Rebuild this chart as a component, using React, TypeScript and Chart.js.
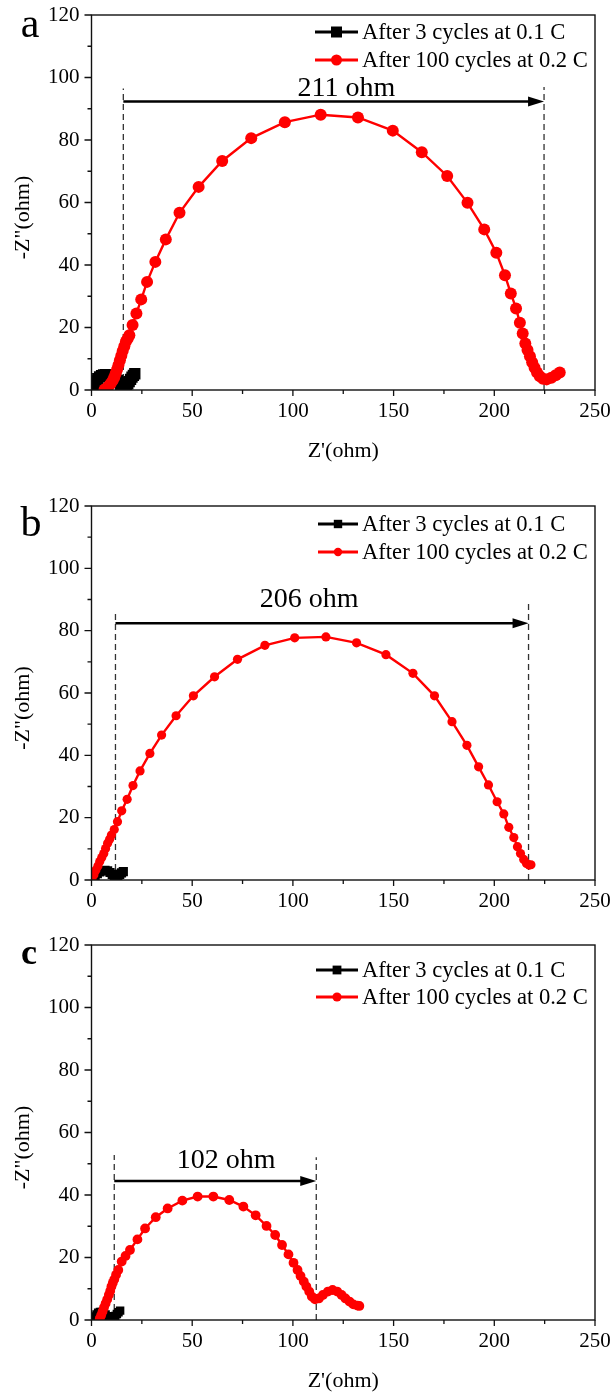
import React, { useEffect, useRef } from "react";
import { Chart, registerables } from "chart.js";
Chart.register(...registerables);

const FONT = '"Liberation Serif", "Times New Roman", serif';

const legendLabels = ["After 3 cycles at 0.1 C", "After 100 cycles at 0.2 C"];
const xTitle = "Z'(ohm)";
const yTitle = '-Z"(ohm)';
const xTickValues = [0, 50, 100, 150, 200, 250];
const yTickValues = [0, 20, 40, 60, 80, 100, 120];

// ---------- Panel a ----------
const aBlackX = [0.5, 1, 1.6, 2.3, 3.1, 4, 5, 6, 7, 8, 9, 10, 11, 12, 13, 13.8, 14.5, 15.2, 15.9, 16.6, 17.3, 18, 18.7, 19.4, 20.1, 20.8, 21.5];
const aBlackY = [0.3, 1.2, 2.1, 2.9, 3.6, 4.2, 4.6, 4.8, 4.9, 4.9, 4.8, 4.6, 4.3, 3.8, 3.1, 2.4, 1.7, 1.2, 0.9, 1.0, 1.4, 2.0, 2.7, 3.4, 4.1, 4.7, 5.2];
const aRedX = [6.5, 7.5, 8.5, 9.5, 10.5, 11.3, 12, 12.7, 13.4, 14.1, 14.8, 15.5, 16.3, 17.1, 18, 18.8, 20.4, 22.3, 24.7, 27.6, 31.7, 36.9, 43.7, 53.2, 64.9, 79.3, 96, 113.8, 132.3, 149.6, 164, 176.6, 186.7, 195, 201, 205.3, 208.2, 210.8, 212.7, 214.1, 215.4, 216.5, 217.7, 218.8, 220, 221.2, 222.6, 224.2, 226, 228.3, 230.5, 232.5];
const aRedY = [0.2, 0.6, 1.2, 2, 3, 4.1, 5.3, 6.6, 8, 9.5, 11, 12.5, 14, 15.5, 16.5, 17.5, 20.8, 24.5, 29, 34.6, 41, 48.2, 56.7, 65, 73.3, 80.6, 85.7, 88.1, 87.2, 83, 76.1, 68.5, 59.9, 51.4, 43.9, 36.7, 30.9, 26.1, 21.5, 18.1, 14.9, 12.8, 10.8, 8.9, 7.1, 5.6, 4.4, 3.6, 3.4, 3.9, 4.7, 5.6];
const aMarkX = [15.8, 224.7];
const aMarkTop = [96.5, 97];
const aArrowY = 92.3;
const aLabel = "211 ohm";
const aLabelAt = [126.6, 94.2];

// ---------- Panel b ----------
const bBlackX = [0.8, 1.8, 2.9, 4.1, 5.4, 6.7, 8, 9.2, 10.3, 11.3, 12.2, 13.1, 14, 14.9, 15.8];
const bBlackY = [0.5, 1.3, 2.0, 2.6, 3.0, 3.1, 2.9, 2.4, 1.8, 1.3, 1.1, 1.3, 1.8, 2.3, 2.7];
const bRedX = [0.2, 1.2, 2.2, 3.2, 4.1, 5.1, 6.1, 7, 8, 9, 9.9, 11.3, 12.9, 15, 17.7, 20.6, 24.1, 29, 34.8, 42, 50.6, 61.1, 72.5, 86.1, 100.9, 116.4, 131.6, 146.2, 159.6, 170.3, 179, 186.4, 192.2, 197.1, 201.4, 204.7, 207.2, 209.7, 211.5, 213, 214.6, 216, 217.3, 218.2];
const bRedY = [0.3, 1.7, 3.2, 4.5, 5.9, 7.2, 8.5, 10.1, 11.8, 13.1, 14.4, 16.2, 18.7, 22.2, 25.9, 30.3, 35, 40.6, 46.5, 52.7, 59.1, 65.2, 70.8, 75.3, 77.7, 78, 76.1, 72.3, 66.3, 59.1, 50.8, 43.2, 36.3, 30.5, 25.1, 21.2, 16.9, 13.6, 10.7, 8.5, 6.6, 5.3, 4.8, 4.9];
const bMarkX = [11.9, 217];
const bMarkTop = [86.6, 89.3];
const bArrowY = 82.4;
const bLabel = "206 ohm";
const bLabelAt = [108.1, 87.7];

// ---------- Panel c ----------
const cBlackX = [1.2, 1.8, 2.5, 3.3, 4.2, 5.1, 6, 7, 8, 9, 10, 11, 11.8, 12.6, 13.4, 14.2];
const cBlackY = [0.3, 1.1, 1.8, 2.3, 2.6, 2.6, 2.3, 1.8, 1.2, 0.8, 0.6, 0.8, 1.3, 1.9, 2.5, 3.0];
const cRedX = [4.1, 4.8, 5.5, 6.2, 7, 7.8, 8.6, 9.3, 9.9, 10.6, 11.3, 12.2, 13.3, 15, 16.9, 19.1, 22.8, 26.6, 31.9, 37.8, 45.1, 52.7, 60.5, 68.4, 75.4, 81.5, 86.9, 91.2, 94.6, 97.8, 100.3, 102.3, 103.8, 105.4, 106.7, 108.1, 109.4, 111, 112.9, 114.9, 117.4, 119.7, 122, 124.2, 126.1, 128.1, 130, 132, 133];
const cRedY = [0.5, 1.5, 2.7, 4, 5.3, 6.6, 8, 9.3, 10.7, 11.9, 13, 14.5, 16, 18.7, 20.5, 22.4, 25.8, 29.3, 32.9, 35.7, 38.2, 39.5, 39.5, 38.4, 36.3, 33.5, 30.1, 27.2, 24, 21, 18.3, 16, 14.1, 12.3, 10.7, 9.1, 7.5, 6.6, 6.9, 8, 9.1, 9.6, 9.1, 8, 6.9, 5.9, 5, 4.6, 4.5];
const cMarkX = [11.3, 111.6];
const cMarkTop = [52.8, 52.1];
const cArrowY = 44.5;
const cLabel = "102 ohm";
const cLabelAt = [66.8, 48.5];

const toPts = (xs: number[], ys: number[]) => xs.map((x, i) => ({ x, y: ys[i] }));

const panels = [
  {
    key: "a", top: 0, height: 470, caTop: 15, caBottom: 390,
    letter: "a", letterFont: `42px ${FONT}`, letterX: 30, letterBase: 37,
    showXTitle: true, legendRows: [32, 60], legendX0: 315,
    redR: 6, rectR: 8, legRedR: 5.5, legRectR: 5.5,
    blackX: aBlackX, blackY: aBlackY, redX: aRedX, redY: aRedY,
    markX: aMarkX, markTop: aMarkTop, arrowY: aArrowY, label: aLabel, labelAt: aLabelAt,
  },
  {
    key: "b", top: 470, height: 450, caTop: 36, caBottom: 410,
    letter: "b", letterFont: `42px ${FONT}`, letterX: 31, letterBase: 66,
    showXTitle: false, legendRows: [54, 82], legendX0: 318,
    redR: 4.6, rectR: 6.5, legRedR: 4.2, legRectR: 4.2,
    blackX: bBlackX, blackY: bBlackY, redX: bRedX, redY: bRedY,
    markX: bMarkX, markTop: bMarkTop, arrowY: bArrowY, label: bLabel, labelAt: bLabelAt,
  },
  {
    key: "c", top: 920, height: 476, caTop: 25, caBottom: 400,
    letter: "c", letterFont: `bold 36px ${FONT}`, letterX: 29, letterBase: 44,
    showXTitle: true, legendRows: [50, 77], legendX0: 316,
    redR: 4.9, rectR: 6, legRedR: 4.6, legRectR: 4.4,
    blackX: cBlackX, blackY: cBlackY, redX: cRedX, redY: cRedY,
    markX: cMarkX, markTop: cMarkTop, arrowY: cArrowY, label: cLabel, labelAt: cLabelAt,
  },
];

function makeDeco(p: any) {
  return {
    id: "deco_" + p.key,
    beforeDatasetsDraw(chart: any) {
      const { ctx, scales } = chart;
      const x = scales.x, y = scales.y;
      ctx.save();
      ctx.strokeStyle = "#333";
      ctx.lineWidth = 1.3;
      ctx.setLineDash([6, 4]);
      p.markX.forEach((mx: number, i: number) => {
        const px = x.getPixelForValue(mx);
        ctx.beginPath();
        ctx.moveTo(px, y.getPixelForValue(0));
        ctx.lineTo(px, y.getPixelForValue(p.markTop[i]));
        ctx.stroke();
      });
      ctx.restore();
    },
    afterDraw(chart: any) {
      const { ctx, chartArea: ca, scales } = chart;
      const x = scales.x, y = scales.y;
      ctx.save();
      // arrow
      const ay = y.getPixelForValue(p.arrowY);
      const x0 = x.getPixelForValue(p.markX[0]);
      const x1 = x.getPixelForValue(p.markX[1]);
      ctx.strokeStyle = "#000";
      ctx.lineWidth = 2.6;
      ctx.beginPath();
      ctx.moveTo(x0, ay);
      ctx.lineTo(x1 - 10, ay);
      ctx.stroke();
      ctx.fillStyle = "#000";
      ctx.beginPath();
      ctx.moveTo(x1, ay);
      ctx.lineTo(x1 - 16, ay - 5);
      ctx.lineTo(x1 - 16, ay + 5);
      ctx.closePath();
      ctx.fill();
      // label
      ctx.font = `28px ${FONT}`;
      ctx.textAlign = "center";
      ctx.textBaseline = "alphabetic";
      ctx.fillText(p.label, x.getPixelForValue(p.labelAt[0]), y.getPixelForValue(p.labelAt[1]));
      // frame
      ctx.strokeStyle = "#111";
      ctx.lineWidth = 1.4;
      ctx.strokeRect(ca.left, ca.top, ca.right - ca.left, ca.bottom - ca.top);
      // tick marks
      ctx.lineWidth = 1.3;
      ctx.beginPath();
      xTickValues.forEach((v, i) => {
        const px = x.getPixelForValue(v);
        ctx.moveTo(px, ca.bottom);
        ctx.lineTo(px, ca.bottom + 6);
        if (i < xTickValues.length - 1) {
          const mx = x.getPixelForValue((v + xTickValues[i + 1]) / 2);
          ctx.moveTo(mx, ca.bottom);
          ctx.lineTo(mx, ca.bottom + 4);
        }
      });
      yTickValues.forEach((v, i) => {
        const py = y.getPixelForValue(v);
        ctx.moveTo(ca.left, py);
        ctx.lineTo(ca.left - 7, py);
        if (i < yTickValues.length - 1) {
          const my = y.getPixelForValue((v + yTickValues[i + 1]) / 2);
          ctx.moveTo(ca.left, my);
          ctx.lineTo(ca.left - 4, my);
        }
      });
      ctx.stroke();
      // legend
      const lx1 = 358;
      const colors = ["#000000", "#ff0000"];
      p.legendRows.forEach((ry: number, i: number) => {
        ctx.strokeStyle = colors[i];
        ctx.fillStyle = colors[i];
        ctx.lineWidth = 3;
        ctx.beginPath();
        ctx.moveTo(p.legendX0, ry);
        ctx.lineTo(lx1, ry);
        ctx.stroke();
        const cx = (p.legendX0 + lx1) / 2;
        ctx.beginPath();
        if (i === 0) {
          const s = p.legRectR;
          ctx.rect(cx - s, ry - s, 2 * s, 2 * s);
        } else {
          ctx.arc(cx, ry, p.legRedR, 0, Math.PI * 2);
        }
        ctx.fill();
        ctx.fillStyle = "#000";
        ctx.font = `22.6px ${FONT}`;
        ctx.textAlign = "left";
        ctx.textBaseline = "middle";
        ctx.fillText(legendLabels[i], 362, ry + 1);
      });
      // panel letter
      ctx.fillStyle = "#000";
      ctx.font = p.letterFont;
      ctx.textAlign = "center";
      ctx.textBaseline = "alphabetic";
      ctx.fillText(p.letter, p.letterX, p.letterBase);
      // axis titles
      ctx.font = `22px ${FONT}`;
      ctx.textBaseline = "middle";
      ctx.textAlign = "center";
      if (p.showXTitle) {
        ctx.fillText(xTitle, (ca.left + ca.right) / 2, ca.bottom + 61);
      }
      ctx.save();
      ctx.translate(23.5, (ca.top + ca.bottom) / 2 + 15);
      ctx.rotate(-Math.PI / 2);
      ctx.fillText(yTitle, 0, 0);
      ctx.restore();
      ctx.restore();
    },
  };
}

function Panel({ p }: { p: any }) {
  const ref = useRef<HTMLCanvasElement | null>(null);
  useEffect(() => {
    if (!ref.current) return;
    const chart = new Chart(ref.current, {
      type: "scatter",
      data: {
        datasets: [
          {
            label: legendLabels[0],
            data: toPts(p.blackX, p.blackY),
            showLine: true,
            borderColor: "#000000",
            backgroundColor: "#000000",
            borderWidth: 2,
            pointStyle: "rect",
            pointRadius: p.rectR,
            pointBorderWidth: 0,
            order: 2,
          },
          {
            label: legendLabels[1],
            data: toPts(p.redX, p.redY),
            showLine: true,
            borderColor: "#ff0000",
            backgroundColor: "#ff0000",
            borderWidth: 2.4,
            pointStyle: "circle",
            pointRadius: p.redR,
            pointBorderWidth: 0,
            order: 1,
          },
        ],
      },
      options: {
        responsive: false,
        animation: false,
        events: [],
        layout: { padding: { top: p.caTop, right: 19, bottom: 0, left: 0 } },
        plugins: { legend: { display: false }, tooltip: { enabled: false } },
        scales: {
          x: {
            type: "linear",
            min: 0,
            max: 250,
            ticks: { stepSize: 50, padding: 9, color: "#000", font: { family: FONT, size: 21 } },
            grid: { display: false, drawTicks: false },
            border: { display: false },
            afterFit: (s: any) => {
              s.height = p.height - p.caBottom;
              s.paddingLeft = 0;
              s.paddingRight = 0;
            },
          },
          y: {
            type: "linear",
            min: 0,
            max: 120,
            ticks: { stepSize: 20, padding: 12, color: "#000", font: { family: FONT, size: 21 } },
            grid: { display: false, drawTicks: false },
            border: { display: false },
            afterFit: (s: any) => {
              s.width = 91.5;
              s.paddingTop = 0;
              s.paddingBottom = 0;
            },
          },
        },
      },
      plugins: [makeDeco(p)],
    } as any);
    return () => chart.destroy();
  }, [p]);
  return (
    <canvas
      ref={ref}
      width={614}
      height={p.height}
      style={{ position: "absolute", left: 0, top: p.top, width: 614, height: p.height, display: "block" }}
    />
  );
}

export default function App() {
  return (
    <div style={{ position: "absolute", left: 0, top: 0, width: 614, height: 1396, background: "#fff" }}>
      {panels.map((p) => (
        <Panel key={p.key} p={p} />
      ))}
    </div>
  );
}
